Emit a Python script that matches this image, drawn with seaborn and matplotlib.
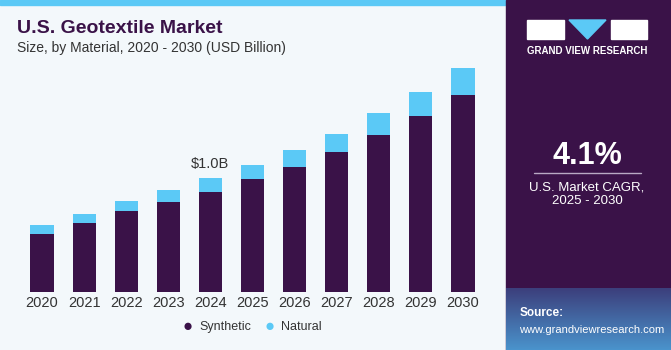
import numpy as np
import pandas as pd
import matplotlib
matplotlib.use('Agg')
import matplotlib.pyplot as plt
from matplotlib.patches import Rectangle, Polygon
import seaborn as sns

# --- data (USD Billion) ---
years = ['2020', '2021', '2022', '2023', '2024', '2025', '2026', '2027', '2028', '2029', '2030']
synthetic = [0.51, 0.61, 0.71, 0.79, 0.88, 0.99, 1.10, 1.23, 1.38, 1.55, 1.73]
natural = [0.08, 0.08, 0.09, 0.11, 0.12, 0.13, 0.15, 0.16, 0.19, 0.21, 0.24]

PURPLE = '#3a1248'
BLUE = '#5bc9f6'
BG = '#f3f8fb'

df = pd.DataFrame({'year': years, 'Synthetic': synthetic, 'Natural': natural})
df['total'] = df['Synthetic'] + df['Natural']

sns.set_style('white')
plt.rcParams['font.family'] = ['Liberation Sans', 'DejaVu Sans']

W, H = 671, 350
fig = plt.figure(figsize=(W / 100, H / 100), dpi=100)
fig.patch.set_facecolor(BG)

def fx(px):
    return px / W

def fy(py):
    return 1 - py / H

# top strip
fig.patches.append(Rectangle((0, fy(5)), fx(506), 5 / H, transform=fig.transFigure,
                             color=BLUE, zorder=-2))

# --- bar axes ---
ax = fig.add_axes([fx(21), fy(292), fx(463), (292 - 60) / H])
ax.set_facecolor(BG)
sns.barplot(data=df, x='year', y='total', color=BLUE, width=0.55, ax=ax,
            saturation=1, linewidth=0)
sns.barplot(data=df, x='year', y='Synthetic', color=PURPLE, width=0.55, ax=ax,
            saturation=1, linewidth=0)
ax.set_xlim(-0.5, 10.5)
ax.set_ylim(0, 232 / 113.7)
ax.set_xlabel('')
ax.set_ylabel('')
ax.set_yticks([])
ax.tick_params(axis='x', length=0, labelsize=10.5, labelcolor='#333333', pad=3)
for s in ax.spines.values():
    s.set_visible(False)
ax.text(4, df['total'][4] + 0.06, '$1.0B', ha='center', va='bottom', fontsize=10.5, color='#333333')

# legend
fig.text(fx(188), fy(326), '\u25cf', color=PURPLE, fontsize=12, ha='center', va='center')
fig.text(fx(199), fy(327), 'Synthetic', color='#333333', fontsize=9, va='center')
fig.text(fx(270), fy(326), '\u25cf', color=BLUE, fontsize=12, ha='center', va='center')
fig.text(fx(281), fy(327), 'Natural', color='#333333', fontsize=9, va='center')

# titles
fig.text(fx(17), fy(33), 'U.S. Geotextile Market', fontsize=14, fontweight='heavy', color=PURPLE)
fig.text(fx(17), fy(52), 'Size, by Material, 2020 - 2030 (USD Billion)', fontsize=10, color='#333333')

# --- right panel ---
fig.patches.append(Rectangle((fx(506), 0), fx(165), 1, transform=fig.transFigure,
                             color=PURPLE, zorder=-1))
# source gradient box
grad = np.linspace(0, 1, 60).reshape(-1, 1)
gax = fig.add_axes([fx(506), 0, fx(165), 62 / H], zorder=3)
cmap = matplotlib.colors.LinearSegmentedColormap.from_list('g', ['#3c3f7c', '#4a93cc'])
gax.imshow(grad, aspect='auto', cmap=cmap, extent=[0, 1, 0, 1])
gax.set_axis_off()
gax.text(0.08, 0.55, 'Source:', color='white', fontsize=8.5, fontweight='bold', transform=gax.transAxes)
gax.text(0.08, 0.28, 'www.grandviewresearch.com', color='white', fontsize=8, transform=gax.transAxes)

# logo
fig.patches.append(Rectangle((fx(527), fy(39)), fx(37), 19 / H, transform=fig.transFigure, color='white'))
fig.patches.append(Rectangle((fx(611), fy(39)), fx(36), 19 / H, transform=fig.transFigure, color='white'))
fig.patches.append(Polygon([(fx(569), fy(20)), (fx(606), fy(20)), (fx(587.5), fy(39))],
                           closed=True, transform=fig.transFigure, color=BLUE))
fig.text(fx(587), fy(51), 'GRAND VIEW RESEARCH', color='white', fontsize=7, fontweight='bold',
         ha='center', va='center')

fig.text(fx(587), fy(156), '4.1%', color='white', fontsize=22, fontweight='bold', ha='center', va='center')
fig.add_artist(plt.Line2D([fx(534), fx(641)], [fy(173), fy(173)], color='#b9a9c4', lw=1))
fig.text(fx(587), fy(187), 'U.S. Market CAGR,', color='white', fontsize=9.5, ha='center', va='center')
fig.text(fx(587), fy(201), '2025 - 2030', color='white', fontsize=9.5, ha='center', va='center')

fig.savefig('out.png', dpi=100, facecolor=fig.get_facecolor())
